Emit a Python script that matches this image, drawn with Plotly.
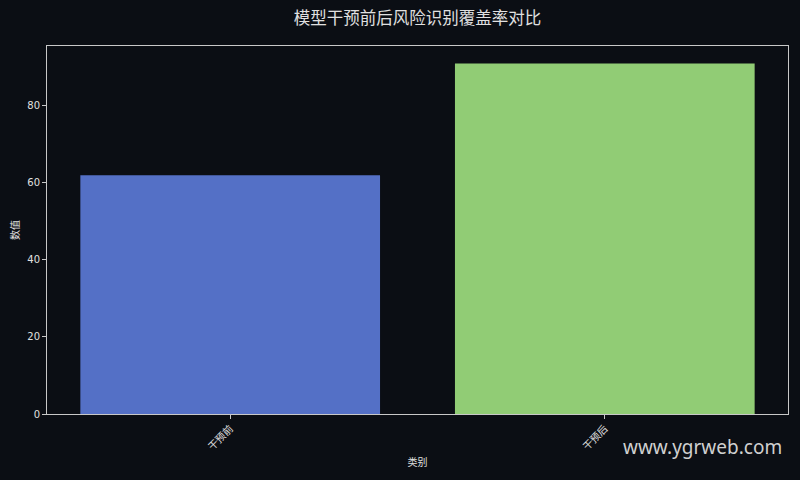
import plotly.graph_objects as go

categories = ["干预前", "干预后"]
values = [62, 91]
bar_colors = ["#5470c6", "#91cc75"]

title = "模型干预前后风险识别覆盖率对比"
bg = "#0b0e14"
fg = "#e0e0e0"
font_family = "DejaVu Sans, Noto Sans CJK SC"

fig = go.Figure()
fig.add_trace(go.Bar(
    x=categories,
    y=values,
    marker=dict(color=bar_colors, line=dict(width=0)),
    width=0.8,
))

axis_common = dict(
    showline=True, mirror=True, linecolor="#c8c8c8", linewidth=1,
    showgrid=False, zeroline=False, automargin=False,
    ticks="outside", ticklen=4, tickcolor="#c8c8c8",
    tickfont=dict(size=10, color=fg, family=font_family),
)

fig.update_layout(
    width=800, height=480,
    paper_bgcolor=bg, plot_bgcolor=bg,
    margin=dict(l=47, r=12, t=46, b=66),
    showlegend=False,
    title=dict(text=title, x=0.5, xref="paper", y=0.962, yanchor="middle",
               font=dict(size=16.5, color=fg, family=font_family)),
    xaxis=dict(axis_common, range=[-0.489, 1.489], tickangle=-45,
               title=dict(text="类别", standoff=7,
                          font=dict(size=10, color=fg, family=font_family))),
    yaxis=dict(axis_common, range=[0, 95.55], tickvals=[0, 20, 40, 60, 80],
               title=dict(text="数值", standoff=5,
                          font=dict(size=10, color=fg, family=font_family))),
    bargap=0.2,
)

fig.add_annotation(
    text="www.ygrweb.com", xref="paper", yref="paper",
    x=0.995, y=-0.05, xanchor="right", yanchor="top", showarrow=False,
    font=dict(size=19, color="#d0d0d0", family="Noto Sans, DejaVu Sans"),
)

# drop the page margin so the figure sits at the window corner
fig.write_html("out.html", config={"displayModeBar": False},
               post_script="document.body.style.margin='0';"
                           "document.body.style.background='#0b0e14';")
